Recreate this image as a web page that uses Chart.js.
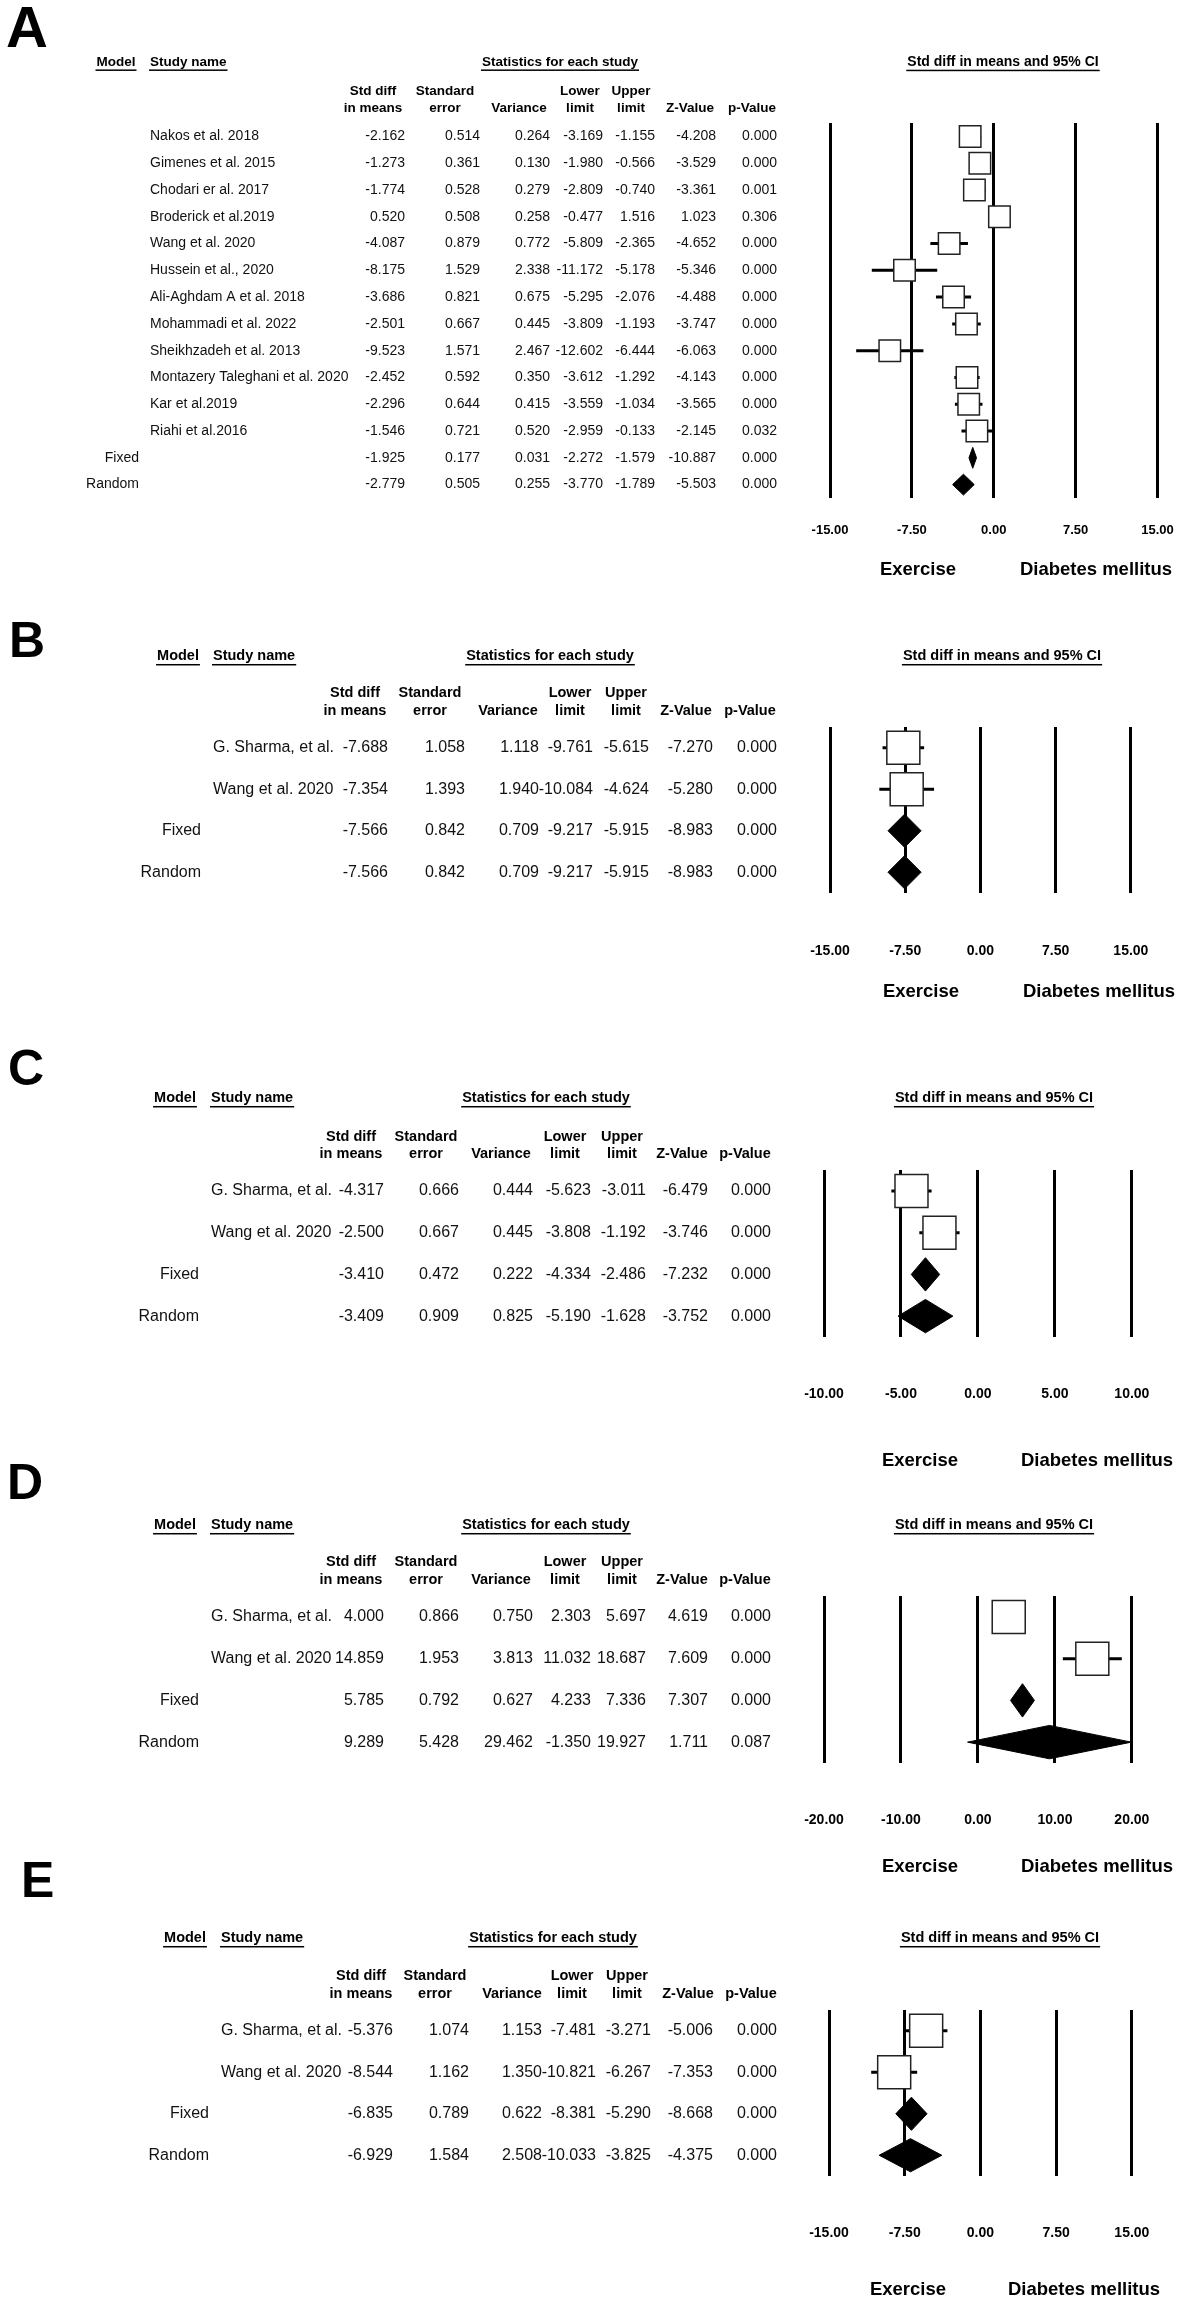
<!DOCTYPE html>
<html>
<head>
<meta charset="utf-8">
<script src="https://cdn.jsdelivr.net/npm/chart.js@4.4.1/dist/chart.umd.min.js"></script>
<style>
  html, body { margin: 0; padding: 0; background: #fff; }
  body { position: relative; width: 1198px; height: 2302px; overflow: hidden; }
  canvas { position: absolute; left: 0; }
</style>
</head>
<body>
<script>
// ---- data ----
const modelRows = ['Fixed', 'Random'];

// A
const studyA = ['Nakos et al. 2018', 'Gimenes et al. 2015', 'Chodari er al. 2017', 'Broderick et al.2019',
  'Wang et al. 2020', 'Hussein et al., 2020', 'Ali-Aghdam A et al. 2018', 'Mohammadi et al. 2022',
  'Sheikhzadeh et al. 2013', 'Montazery Taleghani et al. 2020', 'Kar et al.2019', 'Riahi et al.2016'];
const estA = [-2.162, -1.273, -1.774, 0.520, -4.087, -8.175, -3.686, -2.501, -9.523, -2.452, -2.296, -1.546, -1.925, -2.779];
const seA  = [0.514, 0.361, 0.528, 0.508, 0.879, 1.529, 0.821, 0.667, 1.571, 0.592, 0.644, 0.721, 0.177, 0.505];
const varA = [0.264, 0.130, 0.279, 0.258, 0.772, 2.338, 0.675, 0.445, 2.467, 0.350, 0.415, 0.520, 0.031, 0.255];
const lowA = [-3.169, -1.980, -2.809, -0.477, -5.809, -11.172, -5.295, -3.809, -12.602, -3.612, -3.559, -2.959, -2.272, -3.770];
const upA  = [-1.155, -0.566, -0.740, 1.516, -2.365, -5.178, -2.076, -1.193, -6.444, -1.292, -1.034, -0.133, -1.579, -1.789];
const zA   = [-4.208, -3.529, -3.361, 1.023, -4.652, -5.346, -4.488, -3.747, -6.063, -4.143, -3.565, -2.145, -10.887, -5.503];
const pA   = [0.000, 0.000, 0.001, 0.306, 0.000, 0.000, 0.000, 0.000, 0.000, 0.000, 0.000, 0.032, 0.000, 0.000];
const ticksA = [-15, -7.5, 0, 7.5, 15];

// B
const studyB = ['G. Sharma, et al.', 'Wang et al. 2020'];
const estB = [-7.688, -7.354, -7.566, -7.566];
const seB  = [1.058, 1.393, 0.842, 0.842];
const varB = [1.118, 1.940, 0.709, 0.709];
const lowB = [-9.761, -10.084, -9.217, -9.217];
const upB  = [-5.615, -4.624, -5.915, -5.915];
const zB   = [-7.270, -5.280, -8.983, -8.983];
const pB   = [0.000, 0.000, 0.000, 0.000];
const ticksB = [-15, -7.5, 0, 7.5, 15];

// C
const studyC = ['G. Sharma, et al.', 'Wang et al. 2020'];
const estC = [-4.317, -2.500, -3.410, -3.409];
const seC  = [0.666, 0.667, 0.472, 0.909];
const varC = [0.444, 0.445, 0.222, 0.825];
const lowC = [-5.623, -3.808, -4.334, -5.190];
const upC  = [-3.011, -1.192, -2.486, -1.628];
const zC   = [-6.479, -3.746, -7.232, -3.752];
const pC   = [0.000, 0.000, 0.000, 0.000];
const ticksC = [-10, -5, 0, 5, 10];

// D
const studyD = ['G. Sharma, et al.', 'Wang et al. 2020'];
const estD = [4.000, 14.859, 5.785, 9.289];
const seD  = [0.866, 1.953, 0.792, 5.428];
const varD = [0.750, 3.813, 0.627, 29.462];
const lowD = [2.303, 11.032, 4.233, -1.350];
const upD  = [5.697, 18.687, 7.336, 19.927];
const zD   = [4.619, 7.609, 7.307, 1.711];
const pD   = [0.000, 0.000, 0.000, 0.087];
const ticksD = [-20, -10, 0, 10, 20];

// E
const studyE = ['G. Sharma, et al.', 'Wang et al. 2020'];
const estE = [-5.376, -8.544, -6.835, -6.929];
const seE  = [1.074, 1.162, 0.789, 1.584];
const varE = [1.153, 1.350, 0.622, 2.508];
const lowE = [-7.481, -10.821, -8.381, -10.033];
const upE  = [-3.271, -6.267, -5.290, -3.825];
const zE   = [-5.006, -7.353, -8.668, -4.375];
const pE   = [0.000, 0.000, 0.000, 0.000];
const ticksE = [-15, -7.5, 0, 7.5, 15];

const colHeads = [['Std diff', 'in means'], ['Standard', 'error'], ['', 'Variance'], ['Lower', 'limit'],
  ['Upper', 'limit'], ['', 'Z-Value'], ['', 'p-Value']];
const sideLabels = ['Exercise', 'Diabetes mellitus'];

const FONT = "'Liberation Sans', Arial, Helvetica, sans-serif";

// layout of each panel, page pixels
const big = { dataFont: 16, headFont: 14.5, ciFont: 14.5, tickFont: 14, box: 33, dia: 0.4, letterSize: 50 };
const panels = [
  { letter: 'A', top: 0, height: 600, letterX: 6, letterY: 26, letterSize: 58,
    studies: studyA, cols: [estA, seA, varA, lowA, upA, zA, pA], ticks: ticksA,
    headY: 62, modelX: 116, studyX: 150, statX: 560, ciX: 1003, colY: [91, 108],
    colX: [373, 445, 519, 580, 631, 690, 752], dataX: [405, 480, 550, 603, 655, 716, 777], modelRight: 139,
    plotTop: 123, plotBottom: 498, xLeft: 830, xRight: 1172, tickY: 530, sideY: 570, sideX: [918, 1096],
    dataFont: 14, headFont: 13.5, ciFont: 14, tickFont: 13, box: 21.5, dia: 0.39 },
  Object.assign({}, big, { letter: 'B', top: 600, height: 420, letterX: 9, letterY: 639,
    studies: studyB, cols: [estB, seB, varB, lowB, upB, zB, pB], ticks: ticksB,
    headY: 656, modelX: 178, studyX: 213, statX: 550, ciX: 1002, colY: [693, 711],
    colX: [355, 430, 508, 570, 626, 686, 750], dataX: [388, 465, 539, 593, 649, 713, 777], modelRight: 201,
    plotTop: 727, plotBottom: 893, xLeft: 830, xRight: 1171, tickY: 951, sideY: 992, sideX: [921, 1099] }),
  Object.assign({}, big, { letter: 'C', top: 1030, height: 450, letterX: 8, letterY: 1067,
    studies: studyC, cols: [estC, seC, varC, lowC, upC, zC, pC], ticks: ticksC,
    headY: 1098, modelX: 175, studyX: 211, statX: 546, ciX: 994, colY: [1137, 1154],
    colX: [351, 426, 501, 565, 622, 682, 745], dataX: [384, 459, 533, 591, 646, 708, 771], modelRight: 199,
    plotTop: 1170, plotBottom: 1337, xLeft: 824, xRight: 1164, tickY: 1394, sideY: 1461, sideX: [920, 1097] }),
  Object.assign({}, big, { letter: 'D', top: 1440, height: 450, letterX: 7, letterY: 1481,
    studies: studyD, cols: [estD, seD, varD, lowD, upD, zD, pD], ticks: ticksD,
    headY: 1525, modelX: 175, studyX: 211, statX: 546, ciX: 994, colY: [1562, 1580],
    colX: [351, 426, 501, 565, 622, 682, 745], dataX: [384, 459, 533, 591, 646, 708, 771], modelRight: 199,
    plotTop: 1596, plotBottom: 1763, xLeft: 824, xRight: 1164, tickY: 1820, sideY: 1867, sideX: [920, 1097] }),
  Object.assign({}, big, { letter: 'E', top: 1850, height: 452, letterX: 21, letterY: 1879,
    studies: studyE, cols: [estE, seE, varE, lowE, upE, zE, pE], ticks: ticksE,
    headY: 1938, modelX: 185, studyX: 221, statX: 553, ciX: 1000, colY: [1976, 1994],
    colX: [361, 435, 512, 572, 627, 688, 751], dataX: [393, 469, 542, 596, 651, 713, 777], modelRight: 209,
    plotTop: 2010, plotBottom: 2176, xLeft: 829, xRight: 1170, tickY: 2233, sideY: 2290, sideX: [908, 1084] })
];

// draws text with a line under it
function underlined(ctx, txt, x, y, align, size) {
  ctx.textAlign = align;
  ctx.fillText(txt, x, y);
  const w = ctx.measureText(txt).width;
  const x0 = align === 'center' ? x - w / 2 : (align === 'right' ? x - w : x);
  ctx.fillRect(x0 - 1, y + 0.55 * size, w + 2, 1.5);
}

// table, headers and side labels
const tablePlugin = {
  id: 'forestTable',
  afterDraw(chart) {
    const p = chart.options.plugins.forestTable.panel;
    const ctx = chart.ctx;
    const yScale = chart.scales.y;
    const t = p.top;
    ctx.save();
    ctx.fillStyle = '#000';

    ctx.font = `bold ${p.letterSize}px ${FONT}`;
    ctx.textAlign = 'left';
    ctx.textBaseline = 'alphabetic';
    ctx.fillText(p.letter, p.letterX, p.letterY - t + 0.358 * p.letterSize);

    ctx.textBaseline = 'middle';
    ctx.font = `bold ${p.headFont}px ${FONT}`;
    underlined(ctx, 'Model', p.modelX, p.headY - t, 'center', p.headFont);
    underlined(ctx, 'Study name', p.studyX, p.headY - t, 'left', p.headFont);
    underlined(ctx, 'Statistics for each study', p.statX, p.headY - t, 'center', p.headFont);
    ctx.font = `bold ${p.ciFont}px ${FONT}`;
    underlined(ctx, 'Std diff in means and 95% CI', p.ciX, p.headY - t, 'center', p.ciFont);

    ctx.font = `bold ${p.headFont}px ${FONT}`;
    ctx.textAlign = 'center';
    colHeads.forEach((h, k) => {
      if (h[0]) ctx.fillText(h[0], p.colX[k], p.colY[0] - t);
      ctx.fillText(h[1], p.colX[k], p.colY[1] - t);
    });

    ctx.fillStyle = '#111';
    ctx.font = `${p.dataFont}px ${FONT}`;
    const n = p.cols[0].length;
    for (let i = 0; i < n; i++) {
      const y = yScale.getPixelForValue(i);
      if (i < p.studies.length) {
        ctx.textAlign = 'left';
        ctx.fillText(p.studies[i], p.studyX, y);
      } else {
        ctx.textAlign = 'right';
        ctx.fillText(modelRows[i - p.studies.length], p.modelRight, y);
      }
      ctx.textAlign = 'right';
      p.cols.forEach((col, k) => ctx.fillText(col[i].toFixed(3), p.dataX[k], y));
    }

    ctx.fillStyle = '#000';
    ctx.font = `bold 18.5px ${FONT}`;
    ctx.textAlign = 'center';
    sideLabels.forEach((s, k) => ctx.fillText(s, p.sideX[k], p.sideY - t));
    ctx.restore();
  }
};

function drawPanel(p) {
  const cv = document.createElement('canvas');
  cv.width = 1198;
  cv.height = p.height;
  cv.style.top = p.top + 'px';
  cv.style.width = '1198px';
  cv.style.height = p.height + 'px';
  document.body.appendChild(cv);

  const [est, , , low, up] = p.cols;
  const n = est.length;
  const ns = p.studies.length;

  const boxes = [];
  const whiskers = [];
  for (let i = 0; i < ns; i++) {
    boxes.push({ x: est[i], y: i });
    whiskers.push({ x: low[i], y: i }, { x: up[i], y: i }, { x: null, y: null });
  }

  const datasets = [
    { data: boxes, order: 0, pointStyle: 'rect', pointRadius: p.box / (2 * Math.SQRT1_2),
      pointBackgroundColor: '#fff', pointBorderColor: '#222', pointBorderWidth: 1.5, showLine: false },
    { data: whiskers, order: 2, showLine: true, spanGaps: false, pointRadius: 0,
      borderColor: '#000', borderWidth: 3 }
  ];
  // summary diamonds: top half + bottom half filled between
  for (let i = ns; i < n; i++) {
    datasets.push({ data: [{ x: low[i], y: i }, { x: est[i], y: i - p.dia }, { x: up[i], y: i }],
      order: 1, showLine: true, pointRadius: 0, borderColor: '#000', borderWidth: 1, fill: false });
    datasets.push({ data: [{ x: low[i], y: i }, { x: est[i], y: i + p.dia }, { x: up[i], y: i }],
      order: 1, showLine: true, pointRadius: 0, borderColor: '#000', borderWidth: 1,
      backgroundColor: '#000', fill: '-1' });
  }

  // the scale box must hold the tick labels (they are clipped to it)
  const tickPad = p.tickY - p.plotBottom - 0.6 * p.tickFont;
  const axisH = Math.ceil(tickPad + 1.2 * p.tickFont + 6);
  new Chart(cv.getContext('2d'), {
    type: 'scatter',
    data: { datasets },
    options: {
      responsive: false,
      animation: false,
      events: [],
      layout: { padding: { left: p.xLeft, right: 1198 - p.xRight, top: p.plotTop - p.top,
        bottom: p.height - (p.plotBottom - p.top) - axisH } },
      plugins: { legend: { display: false }, tooltip: { enabled: false }, forestTable: { panel: p } },
      scales: {
        x: {
          type: 'linear',
          min: p.ticks[0],
          max: p.ticks[p.ticks.length - 1],
          afterFit: s => { s.height = axisH; },
          afterBuildTicks: s => { s.ticks = p.ticks.map(v => ({ value: v })); },
          ticks: { padding: tickPad, color: '#000', maxRotation: 0,
            autoSkip: false, font: { family: FONT, size: p.tickFont, weight: 'bold' },
            callback: v => Number(v).toFixed(2) },
          grid: { color: '#000', lineWidth: 3, drawTicks: false },
          border: { display: false }
        },
        y: { type: 'linear', min: -0.5, max: n - 0.5, reverse: true, display: false }
      }
    },
    plugins: [tablePlugin]
  });
}

panels.forEach(drawPanel);
</script>
</body>
</html>
